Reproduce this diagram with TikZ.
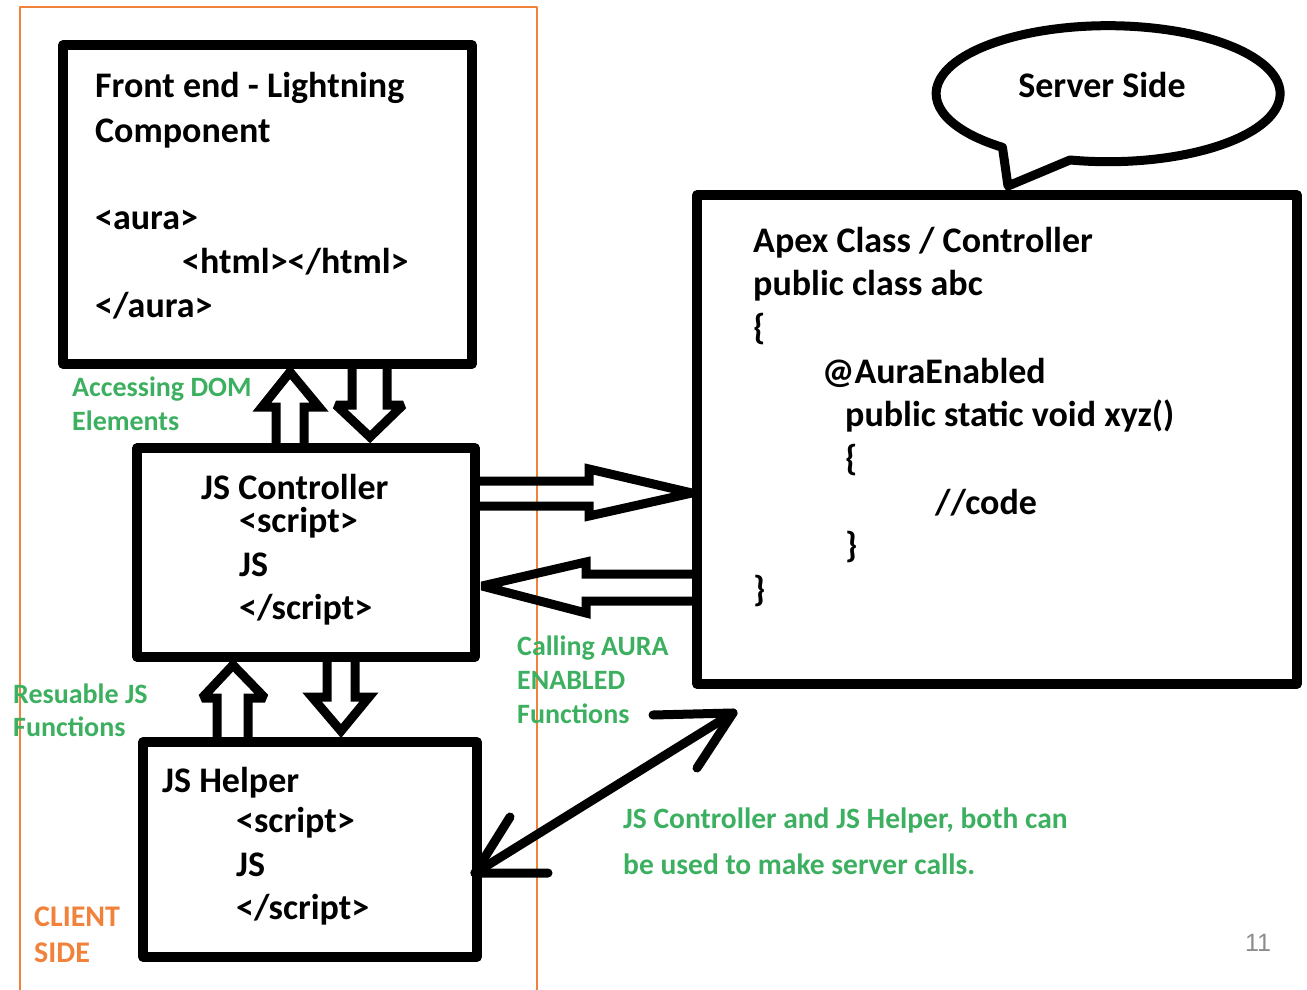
\documentclass[tikz,border=0pt]{standalone}
\usepackage{fontspec}
\setmainfont{Carlito}
\newfontfamily\numfont{Liberation Sans}
\definecolor{grn}{RGB}{60,176,96}
\definecolor{org}{RGB}{240,130,60}
\definecolor{numgray}{RGB}{140,140,140}
\begin{document}
\begin{tikzpicture}[x=1pt,y=-1pt, line join=round,
  box/.style={draw, line width=9.5pt, inner sep=0pt, rectangle},
  txt/.style={anchor=base west, inner sep=0pt, font=\fontsize{36}{40}\selectfont\bfseries},
  lbl/.style={anchor=base west, inner sep=0pt, text=grn, font=\fontsize{28}{32}\selectfont\bfseries},
  note/.style={anchor=base west, inner sep=0pt, text=grn, font=\fontsize{29.5}{32}\selectfont\bfseries},
  side/.style={anchor=base west, inner sep=0pt, text=org, font=\fontsize{30}{32}\selectfont\bfseries},
  blk/.style={draw, line width=9pt, line join=miter, miter limit=2.5},
  dbl/.style={draw, line width=9pt, line cap=round, line join=round}]
\useasboundingbox (0,0) rectangle (1307,990);
% client side frame
\draw[org, line width=2pt] (20,998) -- (20,7) -- (537,7) -- (537,998);
% boxes
\node[box, minimum width=409pt, minimum height=319pt] (front) at (267.5,204.5) {};
\node[box, minimum width=338pt, minimum height=209pt] (jsc) at (306,552.5) {};
\node[box, minimum width=334pt, minimum height=215pt] (help) at (310,849.5) {};
\node[box, minimum width=600pt, minimum height=489pt] (apex) at (997,439.5) {};
% front text
\node[txt] (f1) at (95,98) {Front end - Lightning};
\node[txt] (f2) at (95,142) {Component};
\node[txt] (f3) at (95,229) {<aura>};
\node[txt] (f4) at (182,273) {<html></html>};
\node[txt] (f5) at (95,317) {</aura>};
% js controller text
\node[txt] (c1) at (201,499) {JS Controller};
\node[txt] (c2) at (239,532) {<script>};
\node[txt] (c3) at (239,576) {JS};
\node[txt] (c4) at (239,619) {</script>};
% helper text
\node[txt] (h1) at (162,792) {JS Helper};
\node[txt] (h2) at (236,832) {<script>};
\node[txt] (h3) at (236,876) {JS};
\node[txt] (h4) at (236,919) {</script>};
% apex text
\node[txt] (a1) at (753,252) {Apex Class / Controller};
\node[txt] (a2) at (753,295) {public class abc};
\node[txt] (a3) at (753,339) {\{};
\node[txt] (a4) at (822,383) {@AuraEnabled};
\node[txt] (a5) at (845,426) {public static void xyz()};
\node[txt] (a6) at (845,470) {\{};
\node[txt] (a7) at (935,514) {//code};
\node[txt] (a8) at (845,557) {\}};
\node[txt] (a9) at (753,601) {\}};
% speech bubble
\draw[line width=9pt] (1070,160) arc[start angle=102.8, end angle=-232.1, x radius=172, y radius=68] -- (1008,186) -- cycle;
\node[txt, anchor=base] (srv) at (1102,98) {Server Side};
% block arrows front <-> jsc
\draw[blk] (276,448) -- (276,407) -- (262,407) -- (290,372) -- (319,407) -- (304,407) -- (304,448);
\draw[blk] (352,364) -- (352,405) -- (336,405) -- (370,437) -- (403,405) -- (387,405) -- (387,364);
% block arrows jsc <-> helper
\draw[blk] (217,742) -- (217,698) -- (202,698) -- (233,665) -- (265,698) -- (248,698) -- (248,742);
\draw[blk] (327,657) -- (327,697) -- (312,697) -- (341,731) -- (369,697) -- (355,697) -- (355,657);
% block arrows jsc <-> apex
\draw[blk] (475,481) -- (589,481) -- (589,469) -- (692,493) -- (589,516) -- (589,506) -- (475,506);
\draw[blk] (697,574) -- (586,574) -- (586,562) -- (482,586) -- (586,613) -- (586,601) -- (697,601);
% double arrow helper <-> apex
\coordinate (dA) at (475,873);
\coordinate (dB) at (733,713);
\draw[dbl] (dA) -- (dB);
\draw[dbl] (548,873) -- (dA) -- (510,817);
\draw[dbl] (653,715) -- (dB) -- (697,768);
% green labels
\node[lbl] (l1) at (72,396) {Accessing DOM};
\node[lbl] (l2) at (72,430) {Elements};
\node[lbl] (l3) at (13,703) {Resuable JS};
\node[lbl] (l4) at (13,736) {Functions};
\node[lbl] (l5) at (517,655) {Calling AURA};
\node[lbl] (l6) at (517,689) {ENABLED};
\node[lbl] (l7) at (517,723) {Functions};
\node[note] (l8) at (623,828) {JS Controller and JS Helper, both can};
\node[note] (l9) at (623,874) {be used to make server calls.};
\node[side] (s1) at (34,926) {CLIENT};
\node[side] (s2) at (34,962) {SIDE};
\node[anchor=base, inner sep=0pt, text=numgray, font=\numfont\fontsize{25}{30}\selectfont] (pg) at (1258,951) {11};
\end{tikzpicture}
\end{document}
